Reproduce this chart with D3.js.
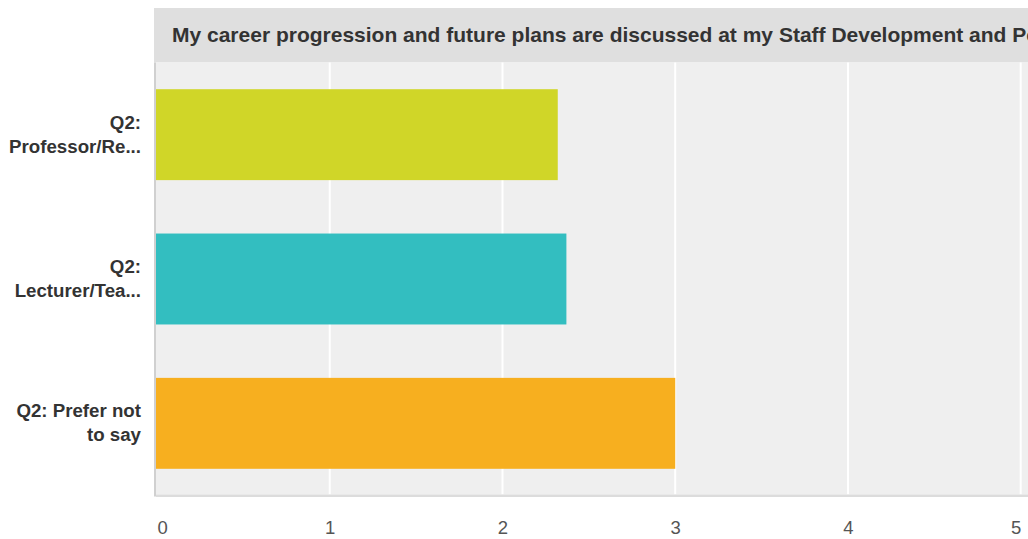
<!DOCTYPE html>
<html>
<head>
<meta charset="utf-8">
<script src="https://d3js.org/d3.v7.min.js"></script>
<style>
  html, body { margin: 0; padding: 0; background: #fff; overflow: hidden; }
  svg { display: block; }
  text { font-family: "Liberation Sans", Arial, Helvetica, sans-serif; }
</style>
</head>
<body>
<script>
const titleText = "My career progression and future plans are discussed at my Staff Development and Performance Review";
const categories = ["Q2: Professor/Re...", "Q2: Lecturer/Tea...", "Q2: Prefer not to say"];
const categoryLines = [["Q2:", "Professor/Re..."], ["Q2:", "Lecturer/Tea..."], ["Q2: Prefer not", "to say"]];
const values = [2.32, 2.37, 3.0];
const colors = ["#d0d628", "#33bec0", "#f7af1f"];
const tickValues = [0, 1, 2, 3, 4, 5];

const W = 1028, H = 539;
const plot = { left: 156, right: 1021, top: 62.5, bottom: 494.5 };

const svg = d3.select("body").append("svg").attr("width", W).attr("height", H);

// Title bar
svg.append("rect").attr("x", 154).attr("y", 8).attr("width", W - 154).attr("height", 54.5).attr("fill", "#dfdfdf");
svg.append("text").attr("x", 172).attr("y", 41.5).attr("font-size", 21).attr("font-weight", "bold")
  .attr("fill", "#333").text(titleText);

// Scales
const x = d3.scaleLinear().domain([0, 5]).range([157, 1020.7]);
const y = d3.scaleBand().domain(categories).range([plot.top, plot.bottom + 1]).paddingInner(0.37).paddingOuter(0.185);

// Plot background
svg.append("rect").attr("x", plot.left).attr("y", plot.top).attr("width", W - plot.left).attr("height", plot.bottom - plot.top).attr("fill", "#efefef");

// Gridlines
svg.append("g").selectAll("line").data(tickValues.filter(d => d > 0)).join("line")
  .attr("x1", d => x(d)).attr("x2", d => x(d)).attr("y1", plot.top).attr("y2", plot.bottom)
  .attr("stroke", "#ffffff").attr("stroke-width", 2);

// Axis lines
svg.append("rect").attr("x", 154).attr("y", plot.top).attr("width", 2).attr("height", plot.bottom - plot.top + 2).attr("fill", "#d0d0d0");
svg.append("rect").attr("x", 156).attr("y", plot.bottom).attr("width", W - 156).attr("height", 2.5).attr("fill", "#dcdcdc");

// Bars
svg.append("g").selectAll("rect").data(values).join("rect")
  .attr("x", x(0) - 1)
  .attr("y", (d, i) => y(categories[i]))
  .attr("width", d => x(d) - x(0) + 1)
  .attr("height", y.bandwidth())
  .attr("fill", (d, i) => colors[i]);

// X axis labels
const xAxis = d3.axisBottom(x).tickValues(tickValues).tickSize(0).tickPadding(0).tickFormat(d3.format("d"));
const gx = svg.append("g").attr("transform", "translate(0,521)").call(xAxis);
gx.select(".domain").remove();
gx.selectAll("text").attr("font-size", 18.5).attr("fill", "#555").attr("dy", "0.71em")
  .attr("font-family", "\"Liberation Sans\", Arial, sans-serif")
  .attr("text-anchor", d => d === 0 ? "start" : (d === 5 ? "end" : "middle"));

// Y labels
const gy = svg.append("g");
categories.forEach((c, i) => {
  const cy = y(c) + y.bandwidth() / 2;
  const lines = categoryLines[i];
  const t = gy.append("text").attr("text-anchor", "end").attr("font-size", 18.7).attr("font-weight", "bold").attr("fill", "#333");
  lines.forEach((ln, j) => {
    t.append("tspan").attr("x", 141).attr("y", cy - 6 + j * 24).text(ln);
  });
});
</script>
</body>
</html>
